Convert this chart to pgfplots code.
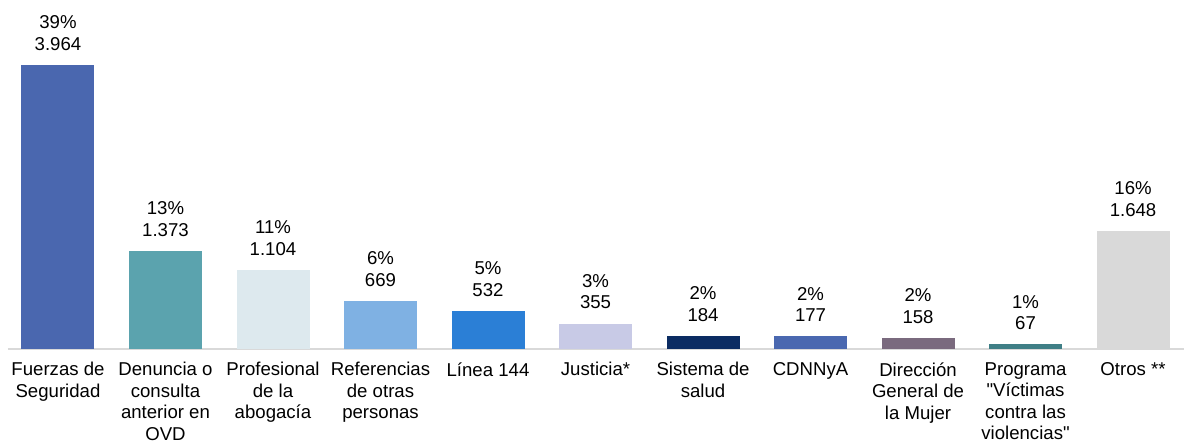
\documentclass[border=0pt]{standalone}
\usepackage{fontspec}
\setmainfont{Liberation Sans}
\usepackage{pgfplots}
\pgfplotsset{compat=1.18}
\usetikzlibrary{calc}
\definecolor{c1}{RGB}{74,103,175}
\definecolor{c2}{RGB}{91,163,174}
\definecolor{c3}{RGB}{221,233,238}
\definecolor{c4}{RGB}{127,177,227}
\definecolor{c5}{RGB}{43,127,214}
\definecolor{c6}{RGB}{200,202,230}
\definecolor{c7}{RGB}{11,44,98}
\definecolor{c8}{RGB}{74,104,176}
\definecolor{c9}{RGB}{122,106,126}
\definecolor{c10}{RGB}{63,127,134}
\definecolor{c11}{RGB}{217,217,217}
\pgfplotsset{
  bb/.style 2 args={fill=#1, draw=none, bar shift=0pt,
    nodes near coords={#2\%\\\pgfmathprintnumber{\pgfplotspointmeta}}},
}
\begin{document}
\begin{tikzpicture}
\begin{axis}[
    name=ax,
    scale only axis,
    width=588pt, height=174.5pt,
    ybar, bar width=36.5pt,
    xmin=-0.465, xmax=10.474,
    ymin=0, ymax=4871,
    axis x line=bottom, axis y line=none,
    x axis line style={draw=c11, line width=1pt, -},
    xtick={0,...,10}, major tick length=0pt,
    xticklabels={{Fuerzas de\\Seguridad},{Denuncia o\\consulta\\anterior en\\OVD},{Profesional\\de la\\abogacía},{Referencias\\de otras\\personas},{Línea 144},{Justicia*},{Sistema de\\salud},{CDNNyA},{Dirección\\General de\\la Mujer},{Programa\\\textquotedbl Víctimas\\contra las\\violencias\textquotedbl},{Otros **}},
    xticklabel style={align=center, anchor=north, inner sep=0pt, yshift=-6.5pt,
      font=\fontsize{9.3}{10.75}\selectfont},
    every node near coord/.append style={align=center, inner sep=0pt, yshift=7pt,
      font=\fontsize{9.3}{10.75}\selectfont},
    /pgf/number format/.cd, 1000 sep={.}, assume math mode=true,
    /pgfplots/.cd,
    clip=false,
]
\addplot[bb={c1}{39}] coordinates {(0,3964)};
\addplot[bb={c2}{13}] coordinates {(1,1373)};
\addplot[bb={c3}{11}] coordinates {(2,1104)};
\addplot[bb={c4}{6}] coordinates {(3,669)};
\addplot[bb={c5}{5}] coordinates {(4,532)};
\addplot[bb={c6}{3}] coordinates {(5,355)};
\addplot[bb={c7}{2}] coordinates {(6,184)};
\addplot[bb={c8}{2}] coordinates {(7,177)};
\addplot[bb={c9}{2}] coordinates {(8,158)};
\addplot[bb={c10}{1}] coordinates {(9,67)};
\addplot[bb={c11}{16}] coordinates {(10,1648)};
\end{axis}
\pgfresetboundingbox
\path[use as bounding box] ($(ax.south west)+(-4pt,-47pt)$) rectangle (ax.north east);
\end{tikzpicture}
\end{document}
